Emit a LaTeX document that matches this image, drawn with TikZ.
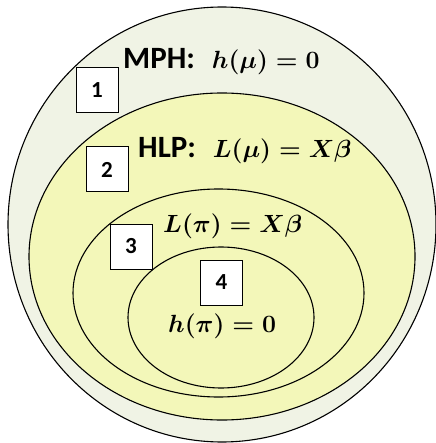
\documentclass[tikz,border=0pt]{standalone}
\usepackage{amsmath}
\usepackage[no-math]{fontspec}
\setmainfont{Carlito}
\usetikzlibrary{shapes.geometric}
\definecolor{outerfill}{HTML}{F0F3E5}
\definecolor{innerfill}{HTML}{F3F7B9}
\newcommand{\wordfont}{\fontsize{31}{34}\selectfont\bfseries}
\begin{document}
\begin{tikzpicture}[x=1pt,y=-1pt,
  region/.style={draw=black, line width=1.1pt, ellipse, inner sep=0pt},
  numbox/.style={draw=black, line width=1pt, fill=white, minimum width=42pt, minimum height=45pt, inner sep=0pt, font=\fontsize{23}{26}\selectfont\bfseries},
  regtext/.style={inner sep=0pt, anchor=west, font=\fontsize{26.5}{30}\selectfont\bfseries\boldmath}]
\useasboundingbox (0,0) rectangle (435,443);
\node[region, fill=outerfill, minimum width=428pt, minimum height=435pt] (mph) at (222,224.5) {};
\node[region, fill=innerfill, minimum width=386pt, minimum height=327pt] (hlp) at (222,256.5) {};
\node[region, fill=innerfill, minimum width=291pt, minimum height=208pt] (lpi) at (218.5,293) {};
\node[region, fill=innerfill, minimum width=186pt, minimum height=141pt] (hpi) at (221,317.5) {};
\node[regtext] (t1) at (123,62) {{\wordfont MPH:}\hspace{17pt}$h(\mu)=0$};
\node[regtext] (t2) at (138,151) {{\wordfont HLP:}\hspace{17pt}$L(\mu)=X\beta$};
\node[regtext] (t3) at (163,226) {$L(\pi)=X\beta$};
\node[regtext] (t4) at (168,326) {$h(\pi)=0$};
\node[numbox] (b1) at (97,90.5) {1};
\node[numbox] (b2) at (107,169.5) {2};
\node[numbox] (b3) at (131,246.5) {3};
\node[numbox] (b4) at (221.5,282.5) {4};
\end{tikzpicture}
\end{document}
